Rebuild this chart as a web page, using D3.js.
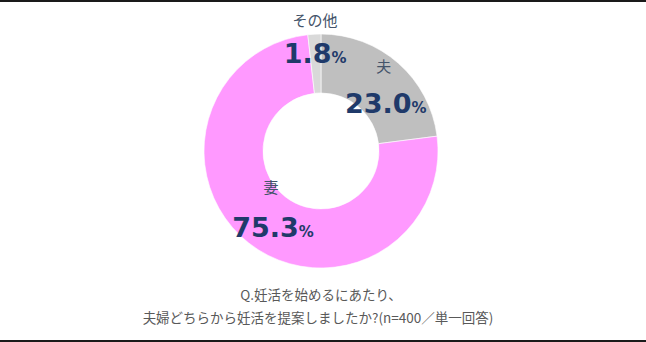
<!DOCTYPE html>
<html>
<head>
<meta charset="utf-8">
<script src="https://cdn.jsdelivr.net/npm/d3@7"></script>
<style>
  html, body { margin: 0; padding: 0; background: #fff; }
  svg { display: block; }
</style>
</head>
<body>
<svg id="chart" width="646" height="342"></svg>
<script>
// Answer categories (clockwise from 12 o'clock) and their shares in %
const categories = ["夫", "妻", "その他"];
const shares = [23.0, 75.3, 1.8];
const sliceColors = ["#bfbfbf", "#ff99ff", "#d9d9d9"];
const captionLines = [
  "Q.妊活を始めるにあたり、",
  "夫婦どちらから妊活を提案しましたか?(n=400／単一回答)"
];

const W = 646, H = 342;
const cx = 321, cy = 151;
const outerR = 117, innerR = 58;

const svg = d3.select("#chart");

// frame lines top and bottom
svg.append("rect").attr("x", 0).attr("y", 0).attr("width", W).attr("height", 2).attr("fill", "#1a1a1a");
svg.append("rect").attr("x", 0).attr("y", H - 2).attr("width", W).attr("height", 2).attr("fill", "#1a1a1a");

const data = categories.map((c, i) => ({ cat: c, value: shares[i], color: sliceColors[i] }));

const pie = d3.pie().value(d => d.value).sort(null);
const arc = d3.arc().innerRadius(innerR).outerRadius(outerR);
const arcs = pie(data);

const g = svg.append("g").attr("transform", `translate(${cx},${cy})`);

g.selectAll("path.slice")
  .data(arcs)
  .join("path")
  .attr("class", "slice")
  .attr("d", arc)
  .attr("fill", d => d.data.color)
  .attr("stroke", "#fff")
  .attr("stroke-width", 0.6);

// label placement relative to each slice's centroid
const labelOffsets = {
  "夫":    { nameDx: 5,  nameDy: -13, valDx: 7,  valDy: 28 },
  "妻":    { nameDx: 4,  nameDy: -27, valDx: 6,  valDy: 17 },
  "その他": { nameDx: -1, nameDy: -38, valDx: -1, valDy: -1 }
};

const catColor = "#44546a";
const numColor = "#1f3a6a";

arcs.forEach(a => {
  const [x, y] = arc.centroid(a);
  const o = labelOffsets[a.data.cat];
  g.append("text")
    .attr("x", x + o.nameDx)
    .attr("y", y + o.nameDy)
    .attr("text-anchor", "middle")
    .attr("font-family", "'Noto Sans CJK JP', sans-serif")
    .attr("font-size", 15)
    .attr("fill", catColor)
    .text(a.data.cat);

  const t = g.append("text")
    .attr("x", x + o.valDx)
    .attr("y", y + o.valDy)
    .attr("text-anchor", "middle")
    .attr("font-family", "'DejaVu Sans', Verdana, sans-serif")
    .attr("font-weight", "bold")
    .attr("fill", numColor);
  t.append("tspan").attr("font-size", 27).text(a.data.value.toFixed(1));
  t.append("tspan").attr("font-size", 15).text("%");
});

// question caption
svg.selectAll("text.caption")
  .data(captionLines)
  .join("text")
  .attr("class", "caption")
  .attr("x", (d, i) => i === 0 ? 321 : 318)
  .attr("y", (d, i) => 300 + i * 23)
  .attr("text-anchor", "middle")
  .attr("font-family", "'Noto Sans CJK JP', sans-serif")
  .attr("font-size", 13.5)
  .attr("fill", "#595959")
  .text(d => d);
</script>
</body>
</html>
